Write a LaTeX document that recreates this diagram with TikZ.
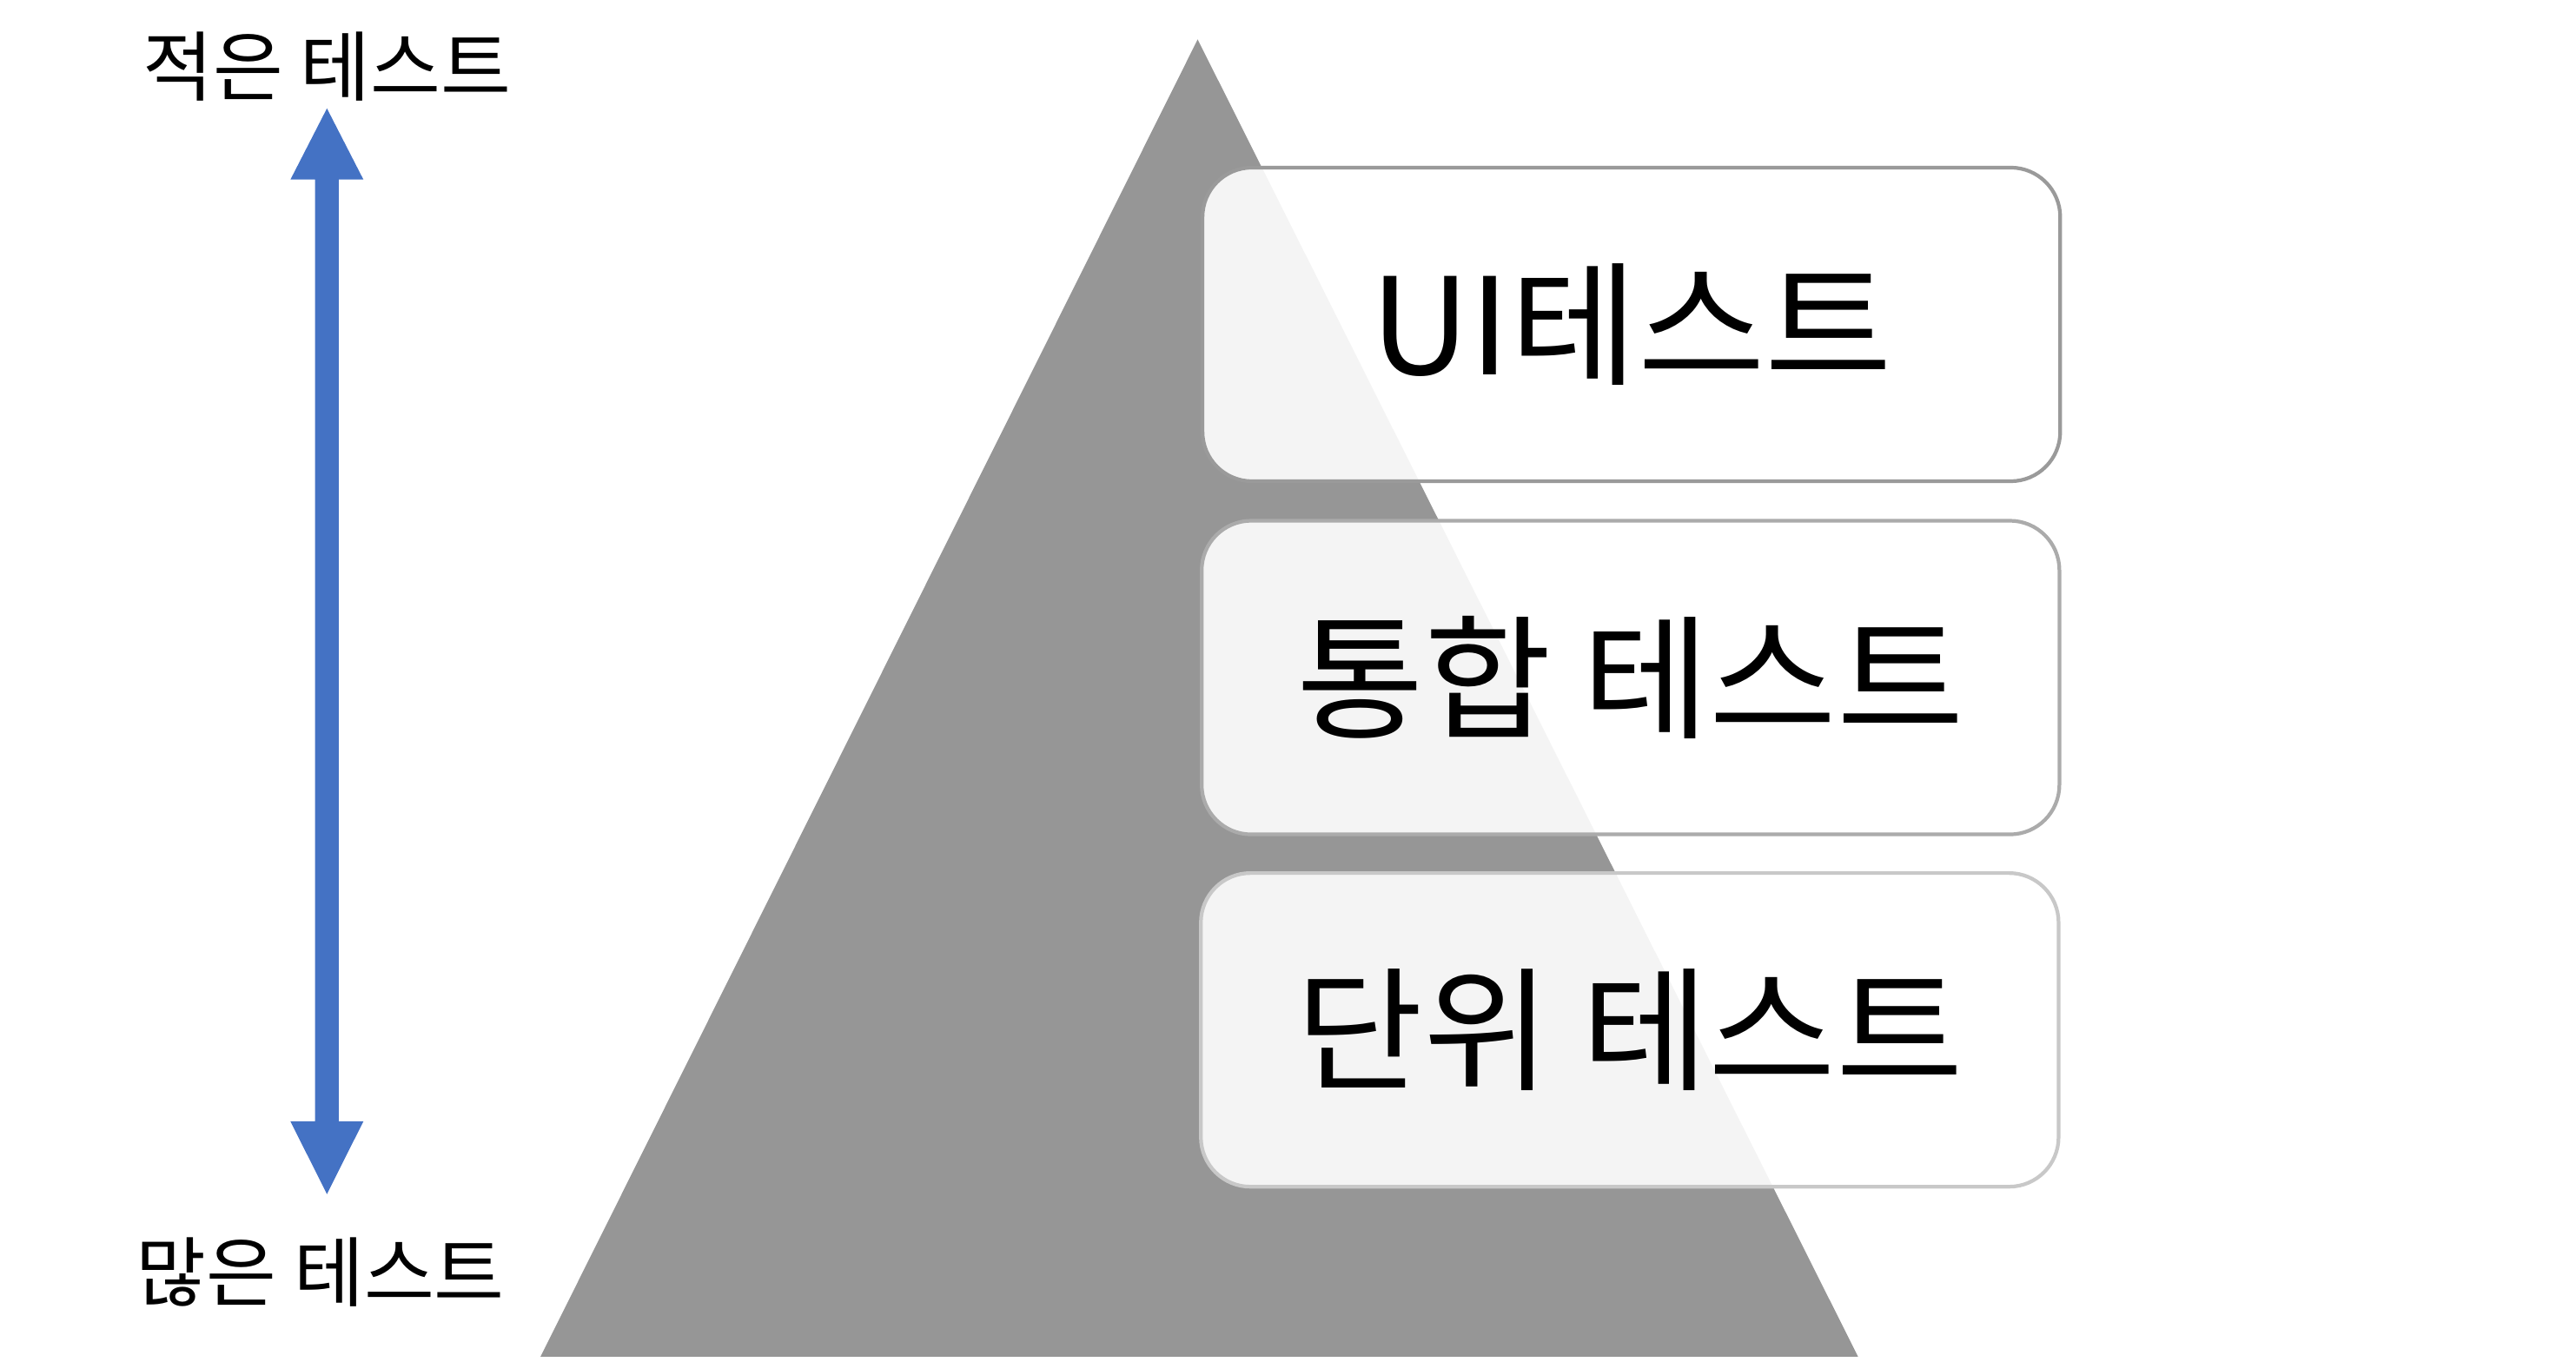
\documentclass[tikz,border=0pt]{standalone}
\usepackage{fontspec}
\setmainfont{Noto Sans CJK KR}
\definecolor{trigray}{HTML}{969696}
\definecolor{arrowblue}{HTML}{4472C4}
\definecolor{bordA}{HTML}{9A9A9A}
\definecolor{bordB}{HTML}{ABABAB}
\definecolor{bordC}{HTML}{C8C8C8}
\newcommand{\wideText}[1]{\scalebox{1.03}[1]{#1}}
\tikzset{
  levelbox/.style={rectangle, rounded corners=0.57cm, fill=white, fill opacity=0.9, text opacity=1,
    line width=1.2pt, minimum width=9.87cm, minimum height=3.61cm, inner sep=0pt,
    font=\fontsize{44}{52}\selectfont, text=black},
  sidelabel/.style={inner sep=0pt, font=\fontsize{25}{30}\selectfont, text=black}
}
\begin{document}
\begin{tikzpicture}[x=0.01891cm,y=-0.01891cm]
\useasboundingbox (0,0) rectangle (1568,829);
% pyramid
\fill[trigray] (729,24) -- (1131,826) -- (329,826) -- cycle;
% level boxes
\node[levelbox, draw=bordA] (ui) at (993,197.5) {\wideText{UI테스트}};
\node[levelbox, draw=bordB] (integ) at (992.5,412.5) {\raisebox{0.05cm}{\wideText{통합 테스트}}};
\node[levelbox, draw=bordC] (unit) at (992,627) {\wideText{단위 테스트}};
% side labels
\node[sidelabel] (few) at (199,40.5) {적은 테스트};
\node[sidelabel] (many) at (195,774.5) {많은 테스트};
% double arrow
\coordinate (atop) at (199,66);
\coordinate (abot) at (199,727);
\fill[arrowblue] (atop) -- (221.2,109.3) -- (206.2,109.3) -- (206.2,682.7) -- (221.2,682.7)
  -- (abot) -- (176.8,682.7) -- (191.8,682.7) -- (191.8,109.3) -- (176.8,109.3) -- cycle;
\end{tikzpicture}
\end{document}
